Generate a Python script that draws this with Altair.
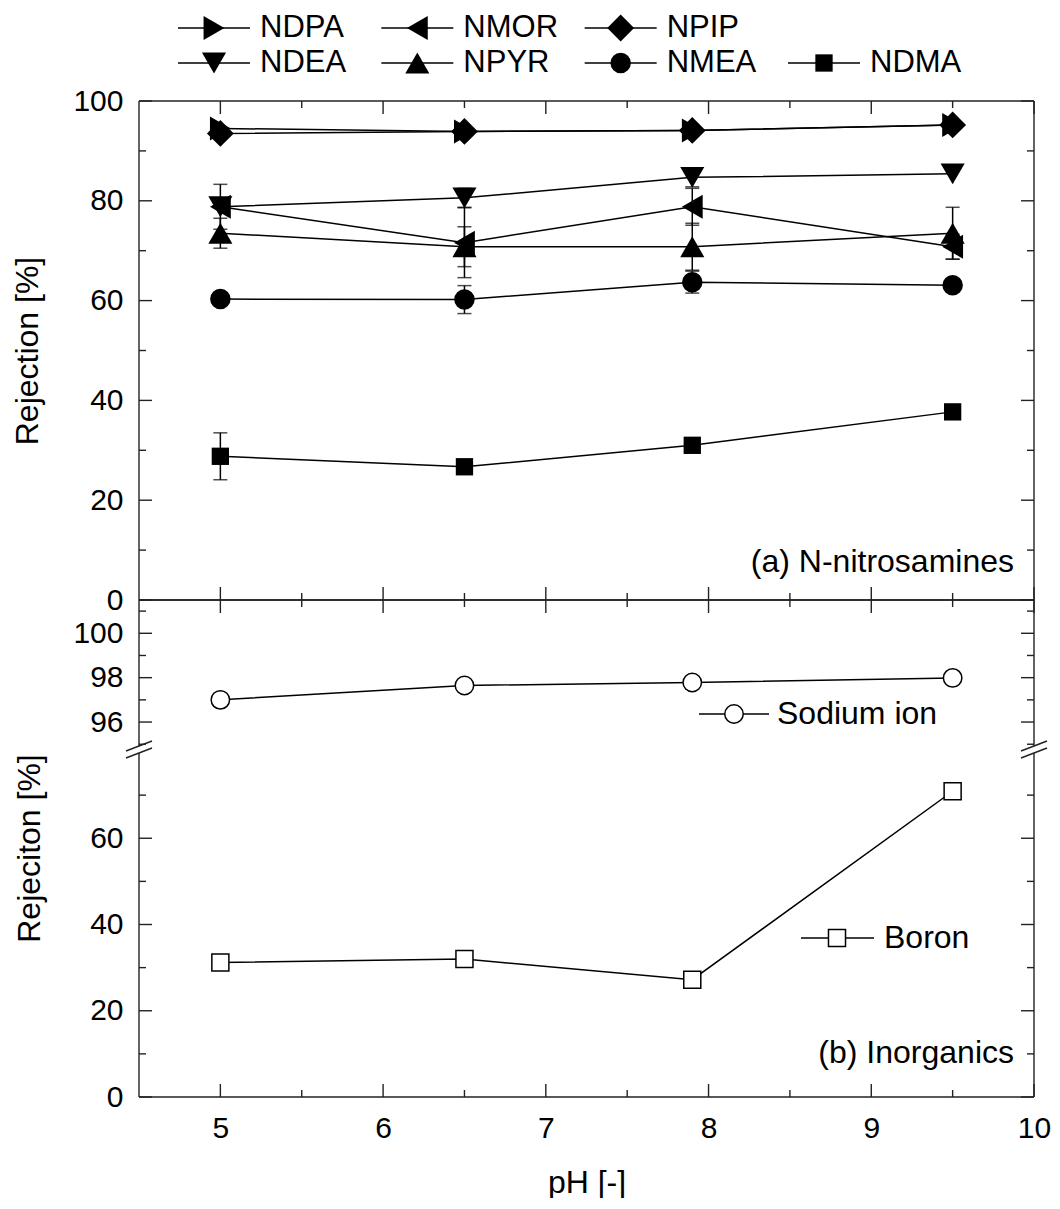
import altair as alt
import pandas as pd

# ---------------- data ----------------
pH = [5.0, 6.5, 7.9, 9.5]

NDPA = [94.5, 93.9, 94.1, 95.2]
NMOR = [78.8, 71.6, 78.8, 70.8]
NPIP = [93.5, 93.9, 94.1, 95.2]
NDEA = [78.8, 80.6, 84.7, 85.4]
NPYR = [73.5, 70.8, 70.8, 73.5]
NMEA = [60.3, 60.2, 63.7, 63.1]
NDMA = [28.8, 26.7, 31.0, 37.7]

NDPA_err = [0.0, 0.0, 0.0, 0.0]
NMOR_err = [0.0, 7.0, 3.7, 2.5]
NPIP_err = [0.0, 0.0, 0.0, 0.0]
NDEA_err = [4.5, 1.9, 1.9, 0.0]
NPYR_err = [3.0, 4.0, 4.7, 5.2]
NMEA_err = [0.0, 2.8, 2.2, 0.0]
NDMA_err = [4.7, 0.0, 0.0, 0.0]

sodium = [97.0, 97.65, 97.78, 97.99]
boron = [31.2, 32.0, 27.2, 70.9]

series_names = ["NDPA", "NMOR", "NPIP", "NDEA", "NPYR", "NMEA", "NDMA"]
legend_rows = [["NDPA", "NMOR", "NPIP"], ["NDEA", "NPYR", "NMEA", "NDMA"]]

x_major = [5, 6, 7, 8, 9, 10]
x_minor = [5.5, 6.5, 7.5, 8.5, 9.5]
top_major = [0, 20, 40, 60, 80, 100]
top_minor = [10, 30, 50, 70, 90]
na_major = [96, 98, 100]
na_minor = [95, 97, 99, 101]
b_major = [0, 20, 40, 60]
b_minor = [10, 30, 50, 70]

# ---------------- styling ----------------
series_shapes = ["triangle-right", "triangle-left", "diamond", "triangle-down",
                 "triangle-up", "circle", "square"]
series_sizes = [580, 580, 720, 580, 580, 420, 300]

FONT = "Liberation Sans"
W = 895
H_LEG, H_TOP, H_NA, H_B = 93, 499, 152, 345
MAJ, MIN = 13, 7
FRAME = "#222222"
FW = 1.4
LW = 1.5

vals = dict(zip(series_names, [NDPA, NMOR, NPIP, NDEA, NPYR, NMEA, NDMA]))
errs = dict(zip(series_names, [NDPA_err, NMOR_err, NPIP_err, NDEA_err,
                               NPYR_err, NMEA_err, NDMA_err]))
rows = []
for name in series_names:
    for x, v, e in zip(pH, vals[name], errs[name]):
        rows.append({"series": name, "pH": x, "value": v, "err": e,
                     "lo": v - e, "hi": v + e})
df = pd.DataFrame(rows)
df_err = df[df["err"] > 0]

xs = alt.Scale(domain=[4.5, 10], nice=False, zero=False)
one = pd.DataFrame({"k": [0]})


def Xn(field="pH"):
    return alt.X(f"{field}:Q", scale=xs, axis=None)


def hline(y, x0, x1, color=FRAME, w=FW):
    return alt.Chart(one).mark_rule(color=color, strokeWidth=w).encode(
        x=alt.value(x0), x2=alt.value(x1), y=alt.value(y))


def vline(x, y0, y1, color=FRAME, w=FW):
    return alt.Chart(one).mark_rule(color=color, strokeWidth=w).encode(
        x=alt.value(x), y=alt.value(y0), y2=alt.value(y1))


def seg(x0, y0, x1, y1):
    return alt.Chart(one).mark_rule(color=FRAME, strokeWidth=FW).encode(
        x=alt.value(x0), y=alt.value(y0), x2=alt.value(x1), y2=alt.value(y1))


def yticks(values, length, yenc):
    d = pd.DataFrame({"value": values})
    return [
        alt.Chart(d).mark_rule(color=FRAME, strokeWidth=FW).encode(
            y=yenc("value"), x=alt.value(0), x2=alt.value(length)),
        alt.Chart(d).mark_rule(color=FRAME, strokeWidth=FW).encode(
            y=yenc("value"), x=alt.value(W - length), x2=alt.value(W)),
    ]


def xticks(values, length, side, H, xenc):
    d = pd.DataFrame({"pH": values})
    if side == "top":
        y0, y1 = 0, length
    else:
        y0, y1 = H - length, H
    return [alt.Chart(d).mark_rule(color=FRAME, strokeWidth=FW).encode(
        x=xenc("pH"), y=alt.value(y0), y2=alt.value(y1))]


def label(txt, x, y, align="left", baseline="middle", size=32):
    return alt.Chart(one).mark_text(text=txt, align=align, baseline=baseline,
                                    fontSize=size, font=FONT, color="black").encode(
        x=alt.value(x), y=alt.value(y))


# ---------------- legend (top) ----------------
leg_records = []
for r, row in enumerate(legend_rows):
    for c, name in enumerate(row):
        leg_records.append({"series": name, "row": r, "col": c})
leg = pd.DataFrame(leg_records)
leg_x = alt.Scale(domain=[0, 3], range=[75, 685])
leg_y = alt.Scale(domain=[0, 1], range=[20, 55])
LX = alt.X("col:Q", scale=leg_x, axis=None)
LY = alt.Y("row:Q", scale=leg_y, axis=None)

leg_layers = [
    alt.Chart(leg).transform_calculate(
        xl="datum.col - 0.177", xr="datum.col + 0.177"
    ).mark_rule(color="black", strokeWidth=LW).encode(
        x=alt.X("xl:Q", scale=leg_x, axis=None), x2="xr:Q", y=LY)
]
for name, shp, sz in zip(series_names, series_shapes, series_sizes):
    leg_layers.append(
        alt.Chart(leg).transform_filter(alt.datum.series == name).mark_point(
            shape=shp, size=sz, filled=True, color="black", opacity=1).encode(x=LX, y=LY))
leg_layers.append(
    alt.Chart(leg).mark_text(align="left", baseline="middle", dx=46,
                             fontSize=31, font=FONT, color="black").encode(
        x=LX, y=LY, text="series:N"))
legend_chart = alt.layer(*leg_layers).properties(width=W, height=H_LEG)

# ---------------- top panel (a) ----------------
ys_top = alt.Scale(domain=[0, 100], nice=False)
ax_top = alt.Axis(values=top_major, title="Rejection [%]", titleX=-112,
                  titleY=H_TOP / 2, titleBaseline="middle")


def Yt(field):
    return alt.Y(f"{field}:Q", scale=ys_top, axis=ax_top)


top_layers = [
    alt.Chart(df).mark_line(color="black", strokeWidth=LW).encode(
        x=Xn(), y=Yt("value"), detail="series:N"),
    alt.Chart(df_err).mark_rule(color="black", strokeWidth=LW).encode(
        x=Xn(), y=Yt("lo"), y2="hi:Q"),
    alt.Chart(df_err).mark_tick(orient="horizontal", size=14, thickness=LW, color="black").encode(
        x=Xn(), y=Yt("lo")),
    alt.Chart(df_err).mark_tick(orient="horizontal", size=14, thickness=LW, color="black").encode(
        x=Xn(), y=Yt("hi")),
]
for name, shp, sz in zip(series_names, series_shapes, series_sizes):
    top_layers.append(
        alt.Chart(df).transform_filter(alt.datum.series == name).mark_point(
            shape=shp, size=sz, filled=True, color="black", opacity=1).encode(
            x=Xn(), y=Yt("value")))
top_layers += yticks(top_major, MAJ, Yt) + yticks(top_minor, MIN, Yt)
top_layers += xticks(x_major, MAJ, "top", H_TOP, Xn) + xticks(x_minor, MIN, "top", H_TOP, Xn)
top_layers += xticks(x_major, MAJ, "bottom", H_TOP, Xn) + xticks(x_minor, MIN, "bottom", H_TOP, Xn)
top_layers += [hline(0, 0, W), hline(H_TOP, 0, W), vline(0, 0, H_TOP), vline(W, 0, H_TOP)]
top_layers += [label("(a) N-nitrosamines", 875, 471, align="right", baseline="alphabetic")]
top_chart = alt.layer(*top_layers).properties(width=W, height=H_TOP)

# ---------------- bottom panel, upper segment (sodium) ----------------
ys_na = alt.Scale(domain=[94.65, 101.5], nice=False, zero=False)
ax_na = alt.Axis(values=na_major, title=None)


def Yn(field):
    return alt.Y(f"{field}:Q", scale=ys_na, axis=ax_na)


df_na = pd.DataFrame({"pH": pH, "value": sodium})
na_layers = [
    alt.Chart(df_na).mark_line(color="black", strokeWidth=LW).encode(x=Xn(), y=Yn("value")),
    alt.Chart(df_na).mark_point(shape="circle", filled=True, fill="white", stroke="black",
                                strokeWidth=LW, size=340, opacity=1).encode(x=Xn(), y=Yn("value")),
]
na_layers += yticks(na_major, MAJ, Yn) + yticks(na_minor, MIN, Yn)
na_layers += xticks(x_major, MAJ, "top", H_NA, Xn) + xticks(x_minor, MIN, "top", H_NA, Xn)
na_layers += [hline(0, 0, W), vline(0, 0, H_NA - 6), vline(W, 0, H_NA - 6)]
na_layers += [
    hline(114, 560, 630, color="black", w=LW),
    alt.Chart(one).mark_point(shape="circle", filled=True, fill="white", stroke="black",
                              strokeWidth=LW, size=340, opacity=1).encode(
        x=alt.value(595), y=alt.value(114)),
    label("Sodium ion", 638, 114),
]
na_chart = alt.layer(*na_layers).properties(width=W, height=H_NA)

# ---------------- bottom panel, lower segment (boron) ----------------
ys_b = alt.Scale(domain=[0, 80], nice=False)
ax_b = alt.Axis(values=b_major, title="Rejeciton [%]", titleX=-110,
                titleY=96, titleBaseline="middle")
ax_xb = alt.Axis(values=x_major, format="d", title="pH [-]", labelFlush=False,
                 labelPadding=16, titlePadding=24)


def Yb(field):
    return alt.Y(f"{field}:Q", scale=ys_b, axis=ax_b)


def Xb(field="pH"):
    return alt.X(f"{field}:Q", scale=xs, axis=ax_xb)


df_b = pd.DataFrame({"pH": pH, "value": boron})
b_layers = [
    alt.Chart(df_b).mark_line(color="black", strokeWidth=LW).encode(x=Xb(), y=Yb("value")),
    alt.Chart(df_b).mark_point(shape="square", filled=True, fill="white", stroke="black",
                               strokeWidth=LW, size=290, opacity=1).encode(x=Xb(), y=Yb("value")),
]
b_layers += yticks(b_major, MAJ, Yb) + yticks(b_minor, MIN, Yb)
b_layers += xticks(x_major, MAJ, "bottom", H_B, Xb) + xticks(x_minor, MIN, "bottom", H_B, Xb)
b_layers += [hline(H_B, 0, W), vline(0, 1, H_B), vline(W, 1, H_B)]
# axis-break marks
for bx in (0, W):
    b_layers += [seg(bx - 13, -1, bx + 13, -11), seg(bx - 13, 6, bx + 13, -4)]
b_layers += [
    hline(186, 662, 735, color="black", w=LW),
    alt.Chart(one).mark_point(shape="square", filled=True, fill="white", stroke="black",
                              strokeWidth=LW, size=290, opacity=1).encode(
        x=alt.value(698), y=alt.value(186)),
    label("Boron", 745, 186),
    label("(b) Inorganics", 875, 311, align="right", baseline="alphabetic"),
]
b_chart = alt.layer(*b_layers).properties(width=W, height=H_B)

# ---------------- compose ----------------
chart = alt.vconcat(legend_chart, top_chart, na_chart, b_chart, spacing=0, bounds="flush").resolve_scale(
    x="independent", y="independent"
).properties(
    padding={"left": 3, "top": 0, "right": 0, "bottom": 0}
).configure(font=FONT).configure_view(stroke=None).configure_axis(
    labelFont=FONT, titleFont=FONT, labelFontSize=30, titleFontSize=32,
    labelColor="black", titleColor="black", titleFontWeight="normal",
    grid=False, domain=False, ticks=False, tickSize=0, labelPadding=16
)

chart.save("out.html", embed_options={"renderer": "svg", "actions": False})
